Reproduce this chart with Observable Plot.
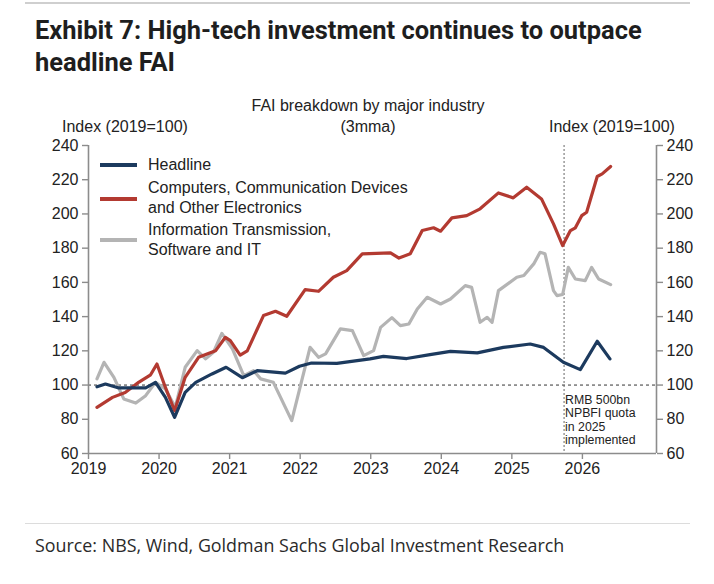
<!DOCTYPE html>
<html>
<head>
<meta charset="utf-8">
<script src="https://cdn.jsdelivr.net/npm/d3@7"></script>
<script src="https://cdn.jsdelivr.net/npm/@observablehq/plot@0.6"></script>
<style>
  html, body { margin: 0; padding: 0; background: #fff; }
  #wrap { position: relative; width: 714px; height: 584px; overflow: hidden; background: #fff; font-family: "Liberation Sans", Arial, sans-serif; color: #222; }
  .topline { position: absolute; left: 25px; top: 2px; width: 665px; height: 2px; background: #cfcfcf; }
  .botline { position: absolute; left: 25px; top: 523px; width: 665px; height: 1px; background: #dcdcdc; }
  #title { position: absolute; left: 35px; top: 14px; font-family: Roboto, "Open Sans", sans-serif; font-weight: 700; font-size: 22px; line-height: 32px; color: #1e1e1e; white-space: nowrap; }
  #source { position: absolute; left: 35px; top: 535px; font-family: "Open Sans", sans-serif; font-size: 16px; line-height: 20px; color: #2a2a2a; white-space: nowrap; }
  .sub { position: absolute; font-size: 16px; line-height: 21px; color: #222; white-space: nowrap; }
  #chart { position: absolute; left: 0; top: 90px; }
  .leg { position: absolute; left: 148px; font-size: 16px; line-height: 20px; color: #222; white-space: nowrap; }
  .sw { position: absolute; left: 100px; width: 37px; height: 4px; }
</style>
</head>
<body>
<div id="wrap">
  <div class="topline"></div>
  <div id="title"><span id="t1"></span><br><span id="t2"></span></div>
  <div class="sub" id="subtitle" style="left:0;width:736px;text-align:center;top:95px;"></div>
  <div class="sub" id="idxL" style="left:62px;top:116px;"></div>
  <div class="sub" id="idxR" style="left:549px;top:116px;"></div>
  <div id="chart"></div>
  <div id="legend"></div>
  <div class="botline"></div>
  <div id="source"></div>
</div>
<script>
// ---------- Text ----------
const titleLines = ["Exhibit 7: High-tech investment continues to outpace", "headline FAI"];
const subtitleLines = ["FAI breakdown by major industry", "(3mma)"];
const axisTitle = "Index (2019=100)";
const sourceText = "Source: NBS, Wind, Goldman Sachs Global Investment Research";
const annotText = "RMB 500bn\nNPBFI quota\nin 2025\nimplemented";

// ---------- Series (time in fractional years, index 2019=100) ----------
const seriesNames = ["Headline", "Computers, Communication Devices\nand Other Electronics", "Information Transmission,\nSoftware and IT"];
const seriesColors = ["#1c3a5e", "#b33a31", "#b4b4b4"];

const headlineT = [2019.12, 2019.24, 2019.43, 2019.81, 2019.95, 2020.09, 2020.22, 2020.37, 2020.52, 2020.75, 2020.95, 2021.18, 2021.39, 2021.79, 2021.99, 2022.16, 2022.52, 2022.99, 2023.18, 2023.51, 2023.84, 2024.13, 2024.51, 2024.88, 2025.26, 2025.45, 2025.73, 2025.97, 2026.21, 2026.39];
const headlineV = [99.0, 100.6, 98.3, 98.3, 101.6, 92.8, 81.1, 95.7, 101.6, 106.5, 110.4, 104.3, 108.4, 107.0, 111.0, 112.9, 112.7, 115.3, 116.8, 115.5, 117.8, 119.7, 118.8, 122.0, 124.0, 122.0, 113.3, 109.0, 125.6, 115.3];

const computersT = [2019.12, 2019.34, 2019.52, 2019.71, 2019.88, 2019.97, 2020.09, 2020.22, 2020.37, 2020.56, 2020.80, 2020.94, 2021.01, 2021.15, 2021.25, 2021.48, 2021.65, 2021.81, 2022.07, 2022.26, 2022.47, 2022.66, 2022.88, 2023.28, 2023.40, 2023.56, 2023.73, 2023.89, 2023.99, 2024.15, 2024.36, 2024.55, 2024.81, 2025.02, 2025.21, 2025.42, 2025.59, 2025.72, 2025.83, 2025.90, 2025.99, 2026.06, 2026.21, 2026.28, 2026.40];
const computersV = [87.0, 92.8, 95.7, 101.6, 106.0, 112.3, 98.6, 85.0, 104.5, 116.2, 120.0, 127.9, 126.0, 117.5, 120.0, 140.6, 143.1, 140.2, 155.8, 154.8, 163.0, 166.9, 176.7, 177.3, 174.2, 176.7, 190.3, 191.9, 189.9, 197.7, 199.0, 203.0, 212.3, 209.4, 215.6, 208.8, 194.2, 181.5, 190.3, 191.9, 199.0, 201.0, 221.9, 223.4, 227.7];

const infoT = [2019.12, 2019.22, 2019.36, 2019.50, 2019.67, 2019.81, 2019.95, 2020.09, 2020.23, 2020.37, 2020.54, 2020.66, 2020.77, 2020.89, 2021.04, 2021.20, 2021.34, 2021.44, 2021.62, 2021.88, 2022.14, 2022.26, 2022.36, 2022.57, 2022.74, 2022.90, 2023.04, 2023.14, 2023.30, 2023.42, 2023.54, 2023.66, 2023.80, 2023.99, 2024.13, 2024.34, 2024.43, 2024.55, 2024.65, 2024.72, 2024.81, 2025.07, 2025.17, 2025.31, 2025.40, 2025.47, 2025.59, 2025.64, 2025.72, 2025.80, 2025.90, 2026.04, 2026.13, 2026.23, 2026.40];
const infoV = [103.6, 113.3, 104.5, 91.9, 89.5, 93.8, 101.6, 97.7, 87.0, 110.4, 120.1, 115.3, 119.1, 130.2, 121.1, 105.5, 108.4, 103.6, 101.6, 79.2, 122.0, 116.2, 118.2, 132.8, 131.8, 117.2, 120.1, 133.7, 139.4, 134.7, 135.7, 144.5, 151.3, 147.4, 150.3, 158.1, 157.1, 136.7, 139.6, 136.7, 155.2, 163.0, 164.0, 170.8, 177.6, 176.7, 155.2, 152.3, 152.9, 168.8, 162.0, 161.0, 168.8, 162.0, 158.7];

// ---------- Axes ----------
const yearTicks = [2019, 2020, 2021, 2022, 2023, 2024, 2025, 2026];
const yTicks = [60, 80, 100, 120, 140, 160, 180, 200, 220, 240];
const xDomain = [2019, 2027.05];
const yDomain = [60, 240];
const baseline = [100];
const annotX = [2025.74];
const annotY = 94.8;

// ---------- Build ----------
const toRows = (T, V, name) => T.map((t, i) => ({t, v: V[i], name}));
const rows = [
  ...toRows(headlineT, headlineV, seriesNames[0]),
  ...toRows(computersT, computersV, seriesNames[1]),
  ...toRows(infoT, infoV, seriesNames[2])
];
const drawOrder = [seriesNames[2], seriesNames[1], seriesNames[0]];
const axisColor = "#8c8c8c";

const chart = Plot.plot({
  width: 714,
  height: 400,
  marginTop: 55,
  marginBottom: 37,
  marginLeft: 88,
  marginRight: 58,
  style: { fontFamily: "'Liberation Sans', Arial, sans-serif", fontSize: "16px", color: "#222", background: "transparent", overflow: "visible" },
  x: { domain: xDomain },
  y: { domain: yDomain },
  color: { domain: seriesNames, range: seriesColors },
  marks: [
    Plot.ruleY(baseline, { stroke: "#333", strokeWidth: 1, strokeDasharray: "3,3" }),
    Plot.ruleX(annotX, { stroke: "#666", strokeWidth: 1, strokeDasharray: "2,2" }),
    ...drawOrder.map(n => Plot.line(rows.filter(d => d.name === n), {
      x: "t", y: "v", stroke: "name", strokeWidth: 3.2, strokeLinejoin: "round", strokeLinecap: "round"
    })),
    Plot.text([annotText], { x: () => annotX[0], y: () => annotY, text: d => d, textAnchor: "start", lineAnchor: "top", lineHeight: 1.1, fontSize: 12.3, dx: 1, fill: "#222" }),
    Plot.ruleX([xDomain[0], xDomain[1]], { stroke: axisColor, strokeWidth: 1.6 }),
    Plot.ruleY([yDomain[0]], { stroke: axisColor, strokeWidth: 1.6 }),
    Plot.axisX({ ticks: yearTicks, tickFormat: d => String(d), tickSize: 6, tickPadding: 3, stroke: axisColor, strokeWidth: 1.4, label: null, fill: "#222" }),
    Plot.axisY({ anchor: "left", ticks: yTicks, tickSize: 6, tickPadding: 4, stroke: axisColor, strokeWidth: 1.4, label: null, fill: "#222" }),
    Plot.axisY({ anchor: "right", ticks: yTicks, tickSize: 6, tickPadding: 4, stroke: axisColor, strokeWidth: 1.4, label: null, fill: "#222" })
  ]
});
document.getElementById("chart").appendChild(chart);

// ---------- Texts ----------
document.getElementById("t1").textContent = titleLines[0];
document.getElementById("t2").textContent = titleLines[1];
document.getElementById("subtitle").innerHTML = subtitleLines.join("<br>");
document.getElementById("idxL").textContent = axisTitle;
document.getElementById("idxR").textContent = axisTitle;
document.getElementById("source").textContent = sourceText;

// fit title and source widths to the reference layout
function fitWidth(el, measureEl, target) {
  const w = measureEl.getBoundingClientRect().width;
  const fs = parseFloat(getComputedStyle(el).fontSize);
  el.style.fontSize = (fs * target / w).toFixed(2) + "px";
}
fitWidth(document.getElementById("title"), document.getElementById("t1"), 607);
fitWidth(document.getElementById("source"), document.getElementById("source"), 530);

// ---------- Legend ----------
const legend = document.getElementById("legend");
const legTops = [155, 178, 220];
const swY = [165, 199, 240];
seriesNames.forEach((n, i) => {
  const sw = document.createElement("div");
  sw.className = "sw";
  sw.style.top = (swY[i] - 2) + "px";
  sw.style.background = seriesColors[i];
  legend.appendChild(sw);
  const tx = document.createElement("div");
  tx.className = "leg";
  tx.style.top = legTops[i] + "px";
  tx.innerHTML = n.replace("\n", "<br>");
  legend.appendChild(tx);
});
</script>
</body>
</html>
